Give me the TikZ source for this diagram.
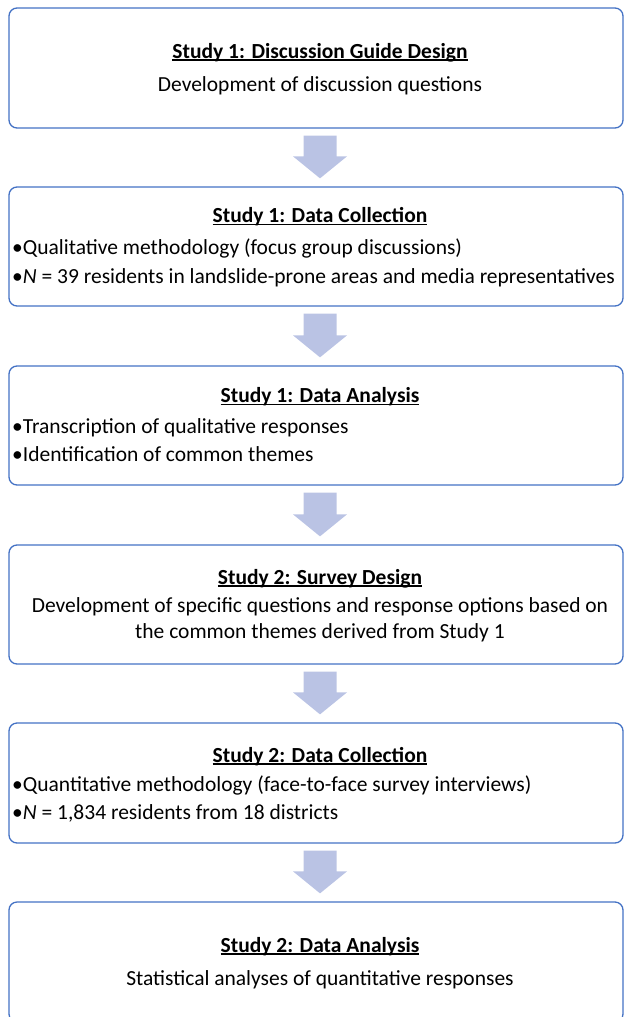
\documentclass[tikz,border=0pt]{standalone}
\usepackage{fontspec}
\setmainfont{Carlito}
\usetikzlibrary{calc}
\definecolor{boxblue}{RGB}{68,114,196}
\definecolor{arrowfill}{RGB}{186,195,228}
\newcommand\stitle[1]{\setbox0\hbox{\bfseries #1}\rlap{\rule[-2.6pt]{\wd0}{1.3pt}}\box0}
\newcommand\blkarrow[2]{\fill[arrowfill] let \p1=(#1.south), \p2=(#2.north) in
 ({\x1+4pt-16.5pt},{\y1-7pt}) -- ({\x1+4pt+16.5pt},{\y1-7pt}) -- ({\x1+4pt+16.5pt},{\y2+30pt})
 -- ({\x1+4pt+27pt},{\y2+30pt}) -- ({\x1+4pt},{\y2+8pt}) -- ({\x1+4pt-27pt},{\y2+30pt})
 -- ({\x1+4pt-16.5pt},{\y2+30pt}) -- cycle;}
\begin{document}
\begin{tikzpicture}[x=1pt,y=-1pt,
  font=\fontsize{21.5}{26}\selectfont,
  box/.style={draw=boxblue, line width=1.3pt, rounded corners=8pt, minimum width=614pt, inner sep=0pt},
  ttl/.style={anchor=base, inner sep=0pt},
  ctr/.style={anchor=base, inner sep=0pt},
  txt/.style={anchor=base west, inner sep=0pt}]
\useasboundingbox (0,0) rectangle (624,1017);
% boxes
\node[box, minimum height=120pt] (b1) at (316,68) {};
\node[box, minimum height=119pt] (b2) at (316,246.5) {};
\node[box, minimum height=119pt] (b3) at (316,425.5) {};
\node[box, minimum height=119pt] (b4) at (316,604.5) {};
\node[box, minimum height=120pt] (b5) at (316,783) {};
\node[box, minimum height=120pt] (b6) at (316,962) {};
% arrows
\blkarrow{b1}{b2}
\blkarrow{b2}{b3}
\blkarrow{b3}{b4}
\blkarrow{b4}{b5}
\blkarrow{b5}{b6}
% texts
\node[ttl] (t1) at (320,58) {\stitle{Study 1: Discussion Guide Design}};
\node[ctr] (d1) at (320,91.5) {Development of discussion questions};

\node[ttl] (t2) at (320,222.5) {\stitle{Study 1: Data Collection}};
\node[txt] (d2a) at (12,254.5) {•Qualitative methodology (focus group discussions)};
\node[txt] (d2b) at (12,283.5) {•\textit{N} = 39 residents in landslide-prone areas and media representatives};

\node[ttl] (t3) at (320,402.5) {\stitle{Study 1: Data Analysis}};
\node[txt] (d3a) at (12,433.5) {•Transcription of qualitative responses};
\node[txt] (d3b) at (12,461.5) {•Identification of common themes};

\node[ttl] (t4) at (320,584) {\stitle{Study 2: Survey Design}};
\node[ctr] (d4a) at (320,612.5) {Development of specific questions and response options based on};
\node[ctr] (d4b) at (320,638.5) {the common themes derived from Study 1};

\node[ttl] (t5) at (320,762) {\stitle{Study 2: Data Collection}};
\node[txt] (d5a) at (12,791) {•Quantitative methodology (face-to-face survey interviews)};
\node[txt] (d5b) at (12,819) {•\textit{N} = 1,834 residents from 18 districts};

\node[ttl] (t6) at (320,952) {\stitle{Study 2: Data Analysis}};
\node[ctr] (d6) at (320,985.5) {Statistical analyses of quantitative responses};
\end{tikzpicture}
\end{document}
